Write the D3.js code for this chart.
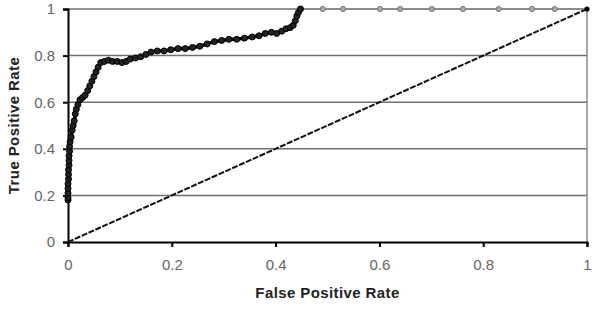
<!DOCTYPE html>
<html>
<head>
<meta charset="utf-8">
<script src="https://cdn.jsdelivr.net/npm/d3@7"></script>
<style>
  body { margin: 0; background: #fff; }
  svg { display: block; font-family: Arial, "Liberation Sans", sans-serif; }
</style>
</head>
<body>
<svg id="chart" width="600" height="317"></svg>
<script>
// ROC curve
const rocFpr = [0, 0, 0, 0, 0, 0.001, 0.001, 0.001, 0.002, 0.002, 0.002, 0.003, 0.003,
  0.004, 0.006, 0.008, 0.010, 0.012, 0.014, 0.016, 0.019, 0.023, 0.028, 0.033, 0.038,
  0.042, 0.046, 0.050, 0.054, 0.058, 0.063, 0.070, 0.078, 0.086, 0.095, 0.104, 0.112,
  0.120, 0.130, 0.140, 0.150, 0.160, 0.172, 0.185, 0.198, 0.212, 0.226, 0.240, 0.254,
  0.268, 0.282, 0.296, 0.310, 0.325, 0.340, 0.355, 0.368, 0.380, 0.392, 0.402, 0.412,
  0.420, 0.428, 0.434, 0.438, 0.441, 0.444, 0.448];
const rocTpr = [0.18, 0.19, 0.21, 0.23, 0.25, 0.27, 0.29, 0.31, 0.33, 0.35, 0.37, 0.39, 0.41,
  0.43, 0.45, 0.48, 0.50, 0.52, 0.55, 0.57, 0.59, 0.61, 0.62, 0.63, 0.65,
  0.67, 0.69, 0.71, 0.73, 0.75, 0.77, 0.775, 0.78, 0.775, 0.775, 0.77, 0.775,
  0.785, 0.79, 0.795, 0.805, 0.815, 0.82, 0.82, 0.825, 0.83, 0.83, 0.835, 0.84,
  0.85, 0.86, 0.865, 0.87, 0.87, 0.875, 0.88, 0.885, 0.895, 0.9, 0.895, 0.905,
  0.915, 0.92, 0.93, 0.95, 0.97, 0.985, 1.0];

// grey points along TPR = 1
const tailFpr = [0.491, 0.530, 0.601, 0.640, 0.701, 0.761, 0.830, 0.894, 0.938];
const tailTpr = [1, 1, 1, 1, 1, 1, 1, 1, 1];

// chance diagonal
const diagFpr = [0, 1];
const diagTpr = [0, 1];

const xTicks = [0, 0.2, 0.4, 0.6, 0.8, 1];
const yTicks = [0, 0.2, 0.4, 0.6, 0.8, 1];

const svg = d3.select('#chart');
const m = { left: 68, right: 587, top: 9, bottom: 242 };

const x = d3.scaleLinear().domain([0, 1]).range([m.left, m.right]);
const y = d3.scaleLinear().domain([0, 1]).range([m.bottom, m.top]);

// gridlines
svg.append('g')
  .selectAll('line')
  .data(yTicks.filter(d => d > 0))
  .join('line')
  .attr('x1', m.left).attr('x2', m.right)
  .attr('y1', d => y(d)).attr('y2', d => y(d))
  .attr('stroke', '#707070')
  .attr('stroke-width', 1.5);

// right border
svg.append('line')
  .attr('x1', m.right).attr('x2', m.right)
  .attr('y1', m.top).attr('y2', m.bottom)
  .attr('stroke', '#8a8a8a')
  .attr('stroke-width', 1.5);

// axes
const xAxis = svg.append('g')
  .attr('transform', `translate(0,${m.bottom})`)
  .call(d3.axisBottom(x).tickValues(xTicks).tickFormat(d3.format('')).tickSize(5).tickPadding(12));
const yAxis = svg.append('g')
  .attr('transform', `translate(${m.left},0)`)
  .call(d3.axisLeft(y).tickValues(yTicks).tickFormat(d3.format('')).tickSize(5).tickPadding(8));

[xAxis, yAxis].forEach(a => {
  a.select('.domain').attr('stroke', '#000').attr('stroke-width', 2);
  a.selectAll('.tick line').attr('stroke', '#000').attr('stroke-width', 2);
  a.selectAll('.tick text')
    .attr('fill', '#666')
    .attr('font-size', 15)
    .attr('font-family', 'Arial, "Liberation Sans", sans-serif');
});

// diagonal
svg.append('path')
  .datum(diagFpr.map((d, i) => [d, diagTpr[i]]))
  .attr('d', d3.line().x(d => x(d[0])).y(d => y(d[1])))
  .attr('fill', 'none')
  .attr('stroke', '#111')
  .attr('stroke-width', 2)
  .attr('stroke-dasharray', '6,1.5');

// grey tail line and markers
const tail = [[rocFpr[rocFpr.length - 1], 1]].concat(tailFpr.map((d, i) => [d, tailTpr[i]]), [[1, 1]]);
svg.append('path')
  .datum(tail)
  .attr('d', d3.line().x(d => x(d[0])).y(d => y(d[1])))
  .attr('fill', 'none')
  .attr('stroke', '#888')
  .attr('stroke-width', 1.5);
svg.append('g')
  .selectAll('circle')
  .data(tailFpr.map((d, i) => [d, tailTpr[i]]))
  .join('circle')
  .attr('cx', d => x(d[0])).attr('cy', d => y(d[1]))
  .attr('r', 2.6)
  .attr('fill', '#aaa')
  .attr('stroke', '#777')
  .attr('stroke-width', 1);
svg.append('circle')
  .attr('cx', x(1)).attr('cy', y(1))
  .attr('r', 2.6)
  .attr('fill', '#000');

// ROC curve
const roc = rocFpr.map((d, i) => [d, rocTpr[i]]);
svg.append('path')
  .datum(roc)
  .attr('d', d3.line().x(d => x(d[0])).y(d => y(d[1])))
  .attr('fill', 'none')
  .attr('stroke', '#000')
  .attr('stroke-width', 3.5);
svg.append('g')
  .selectAll('circle')
  .data(roc)
  .join('circle')
  .attr('cx', d => x(d[0])).attr('cy', d => y(d[1]))
  .attr('r', 3)
  .attr('fill', '#222')
  .attr('stroke', '#000')
  .attr('stroke-width', 1);

// axis titles
svg.append('text')
  .attr('x', (m.left + m.right) / 2)
  .attr('y', 298)
  .attr('text-anchor', 'middle')
  .attr('font-size', 15)
  .attr('font-weight', 'bold')
  .attr('letter-spacing', 0.4)
  .attr('fill', '#222')
  .text('False Positive Rate');
svg.append('text')
  .attr('transform', `translate(19,${(m.top + m.bottom) / 2}) rotate(-90)`)
  .attr('text-anchor', 'middle')
  .attr('font-size', 15)
  .attr('font-weight', 'bold')
  .attr('letter-spacing', 0.4)
  .attr('fill', '#222')
  .text('True Positive Rate');
</script>
</body>
</html>
